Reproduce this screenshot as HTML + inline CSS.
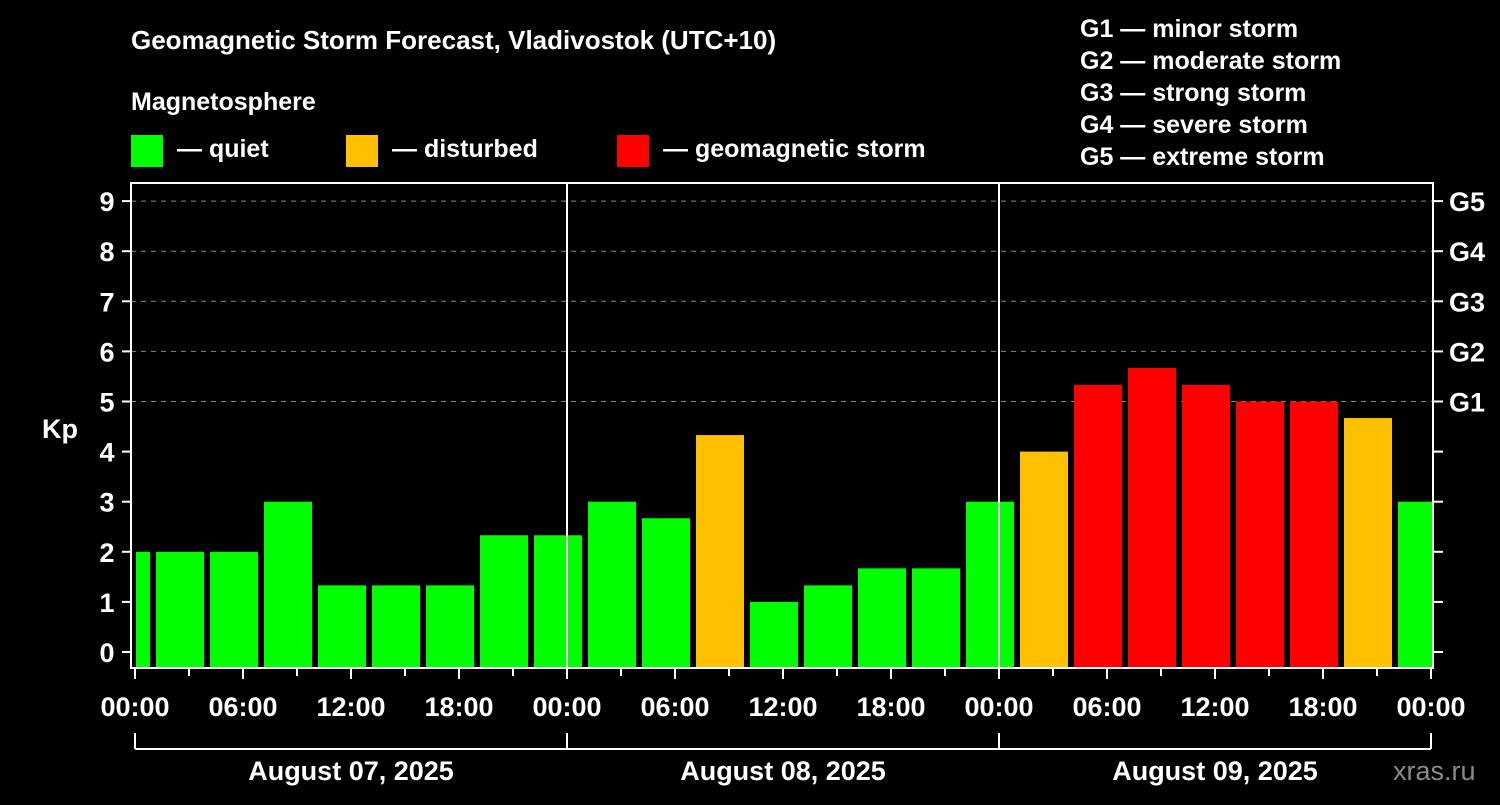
<!DOCTYPE html>
<html><head><meta charset="utf-8"><style>
body{margin:0;background:#000;width:1500px;height:800px;overflow:hidden}
svg text{font-family:"Liberation Sans",Arial,sans-serif;font-weight:bold;fill:#fff}
</style></head><body>
<svg id="chart" width="1500" height="800" xmlns="http://www.w3.org/2000/svg">
<rect width="1500" height="800" fill="#000"/>
<text x="131" y="49" font-size="26">Geomagnetic Storm Forecast, Vladivostok (UTC+10)</text>
<text x="131" y="110" font-size="25">Magnetosphere</text>
<g><rect x="131" y="135" width="32" height="32" fill="#00ff00"/><text x="177" y="157" font-size="25">— quiet</text></g>
<g><rect x="346" y="135" width="32" height="32" fill="#ffc000"/><text x="392" y="157" font-size="25">— disturbed</text></g>
<g><rect x="617" y="135" width="32" height="32" fill="#ff0000"/><text x="663" y="157" font-size="25">— geomagnetic storm</text></g>
<g font-size="25">
<text x="1080" y="37">G1 — minor storm</text>
<text x="1080" y="69">G2 — moderate storm</text>
<text x="1080" y="101">G3 — strong storm</text>
<text x="1080" y="133">G4 — severe storm</text>
<text x="1080" y="165">G5 — extreme storm</text>
</g>
<text x="42" y="438" font-size="27">Kp</text>
<text x="1393" y="780" font-size="27" fill="#888" style="fill:#8a8a8a;font-weight:normal">xras.ru</text>
<g id="grid"></g><g id="bars"></g><g id="axes"></g>
</svg>
<script>
const kpValues=[2,2,2,3,1.33,1.33,1.33,2.33,2.33,3,2.67,4.33,1,1.33,1.67,1.67,3,4,5.33,5.67,5.33,5,5,4.67,3];
const barHours=[-0.5,2.5,5.5,8.5,11.5,14.5,17.5,20.5,23.5,26.5,29.5,32.5,35.5,38.5,41.5,44.5,47.5,50.5,53.5,56.5,59.5,62.5,65.5,68.5,71.5];
const yTicks=[0,1,2,3,4,5,6,7,8,9];
const gLabels=["G1","G2","G3","G4","G5"];
const timeLabels=["00:00","06:00","12:00","18:00"];
const dayLabels=["August 07, 2025","August 08, 2025","August 09, 2025"];
const NS="http://www.w3.org/2000/svg";
const L=131,R=1433,T=183,B=668;
const x=h=>135+h*18;
const y=v=>652-v*50.1;
function mk(p,t,a){const e=document.createElementNS(NS,t);for(const k in a)e.setAttribute(k,a[k]);p.appendChild(e);return e;}
const grid=document.getElementById('grid'),bars=document.getElementById('bars'),axes=document.getElementById('axes');
[5,6,7,8,9].forEach(v=>{const l=mk(grid,'line',{x1:L,x2:R,y1:y(v),y2:y(v),stroke:'#888','stroke-dasharray':'5,5','stroke-width':1});

});
kpValues.forEach((v,i)=>{const c=x(barHours[i]);let x0=Math.max(c-24,136),x1=Math.min(c+24,R-1);
const col=v>=5?'#ff0000':(v>=4?'#ffc000':'#00ff00');
const r=mk(bars,'rect',{x:x0,y:y(v),width:x1-x0,height:B-y(v),fill:col});

});
[1,2].forEach(d=>{const l=mk(axes,'line',{x1:x(24*d),x2:x(24*d),y1:T,y2:B,stroke:'#fff','stroke-width':2});

});
const box=mk(axes,'rect',{x:L,y:T,width:R-L,height:B-T,fill:'none',stroke:'#fff','stroke-width':2});


yTicks.forEach(v=>{mk(axes,'line',{x1:122,x2:L,y1:y(v),y2:y(v),stroke:'#fff','stroke-width':2});
mk(axes,'line',{x1:R,x2:1443,y1:y(v),y2:y(v),stroke:'#fff','stroke-width':2});
const t=mk(axes,'text',{x:107,y:y(v)+10,'font-size':27,'text-anchor':'middle'});t.textContent=v;

});
gLabels.forEach((g,i)=>{const t=mk(axes,'text',{x:1449,y:y(i+5)+10,'font-size':27});t.textContent=g;

});
for(let h=0;h<=72;h+=3){mk(axes,'line',{x1:x(h),x2:x(h),y1:B,y2:h%6?676:679,stroke:'#fff','stroke-width':2});}
for(let h=0;h<=72;h+=6){const t=mk(axes,'text',{x:x(h),y:716,'font-size':27,'text-anchor':'middle'});t.textContent=timeLabels[(h/6)%4];

}
mk(axes,'line',{x1:x(0),x2:x(72),y1:749,y2:749,stroke:'#fff','stroke-width':2});
[0,24,48,72].forEach(h=>mk(axes,'line',{x1:x(h),x2:x(h),y1:733,y2:749,stroke:'#fff','stroke-width':2}));
dayLabels.forEach((d,i)=>{const t=mk(axes,'text',{x:x(24*i+12),y:780,'font-size':27,'text-anchor':'middle'});t.textContent=d;

});
</script>
</body></html>
